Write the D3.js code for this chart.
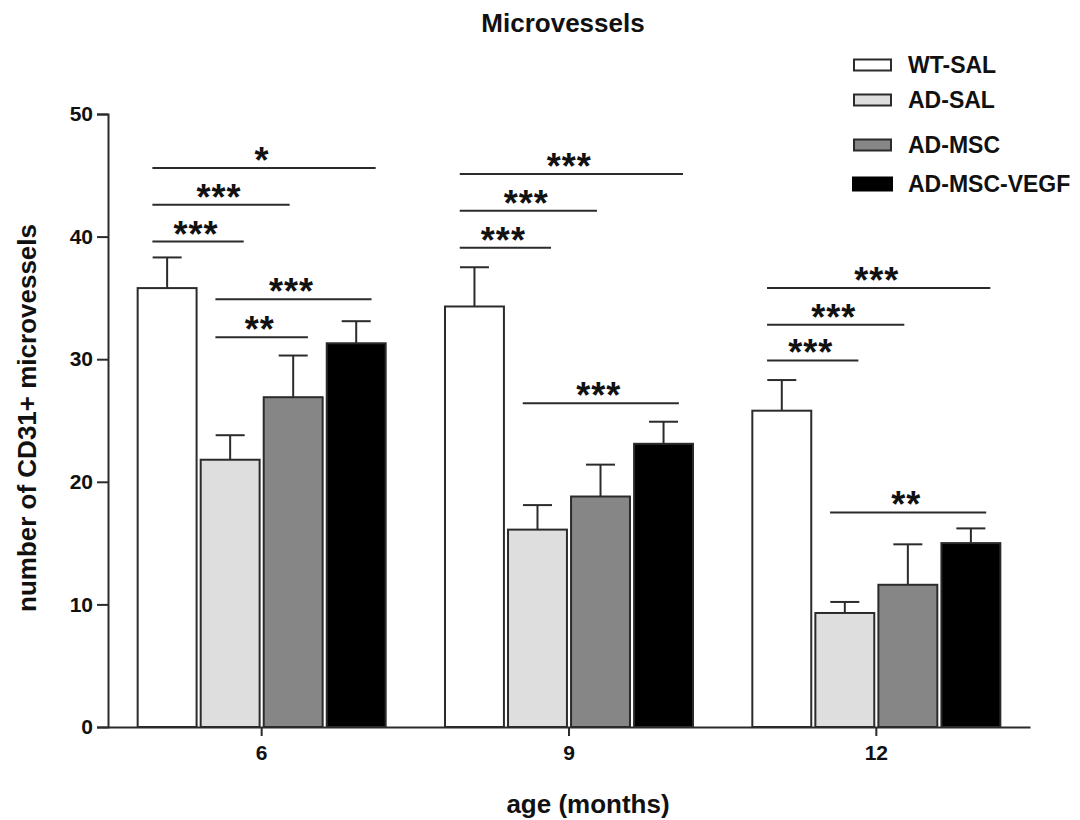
<!DOCTYPE html>
<html>
<head>
<meta charset="utf-8">
<script src="https://cdn.jsdelivr.net/npm/d3@7"></script>
<style>
  html, body { margin: 0; padding: 0; background: #fff; }
  svg { display: block; }
  text { font-family: "Liberation Sans", Arial, sans-serif; font-weight: bold; fill: #111; }
</style>
</head>
<body>
<svg id="chart" width="1080" height="820"></svg>
<script>
// ---- data ----
const ages = ["6", "9", "12"];
const seriesNames = ["WT-SAL", "AD-SAL", "AD-MSC", "AD-MSC-VEGF"];
const wtSal      = [35.8, 34.3, 25.8];
const adSal      = [21.8, 16.1, 9.3];
const adMsc      = [26.9, 18.8, 11.6];
const adMscVegf  = [31.3, 23.1, 15.0];
const wtSalErr     = [2.5, 3.2, 2.5];
const adSalErr     = [2.0, 2.0, 0.9];
const adMscErr     = [3.4, 2.6, 3.3];
const adMscVegfErr = [1.8, 1.8, 1.2];
const yTicks = [0, 10, 20, 30, 40, 50];
// significance brackets: [age, fromSeries, toSeries, level, label]
const brackets = [
  ["6", 0, 3, 45.6, "*"], ["6", 0, 2, 42.6, "***"], ["6", 0, 1, 39.6, "***"],
  ["6", 1, 3, 34.9, "***"], ["6", 1, 2, 31.8, "**"],
  ["9", 0, 3, 45.1, "***"], ["9", 0, 2, 42.1, "***"], ["9", 0, 1, 39.1, "***"],
  ["9", 1, 3, 26.4, "***"],
  ["12", 0, 3, 35.8, "***"], ["12", 0, 2, 32.8, "***"], ["12", 0, 1, 29.9, "***"],
  ["12", 1, 3, 17.5, "**"]
];

const means = [wtSal, adSal, adMsc, adMscVegf];
const errs = [wtSalErr, adSalErr, adMscErr, adMscVegfErr];
const fills = ["#ffffff", "#dedede", "#868686", "#000000"];
const ink = "#2b2b2b";

const svg = d3.select("#chart");
const pLeft = 108, pRight = 1030, pTop = 114, pBottom = 727;

const y = d3.scaleLinear().domain([0, 50]).range([pBottom, pTop]);
const x0 = d3.scaleBand().domain(ages).range([pLeft, pRight]).paddingInner(0.193).paddingOuter(0.0965);
const x1 = d3.scaleBand().domain(d3.range(4)).range([0, x0.bandwidth()]).paddingInner(0.065);

const rows = [];
ages.forEach((a, i) => seriesNames.forEach((s, j) => rows.push({ age: a, s: j, v: means[j][i], e: errs[j][i] })));

// error bars
const eg = svg.append("g").attr("stroke", ink).attr("stroke-width", 2);
rows.forEach(d => {
  const cx = x0(d.age) + x1(d.s) + x1.bandwidth() / 2;
  eg.append("line").attr("x1", cx).attr("x2", cx).attr("y1", y(d.v)).attr("y2", y(d.v + d.e));
  eg.append("line").attr("x1", cx - 14.5).attr("x2", cx + 14.5).attr("y1", y(d.v + d.e)).attr("y2", y(d.v + d.e));
});

// bars
svg.append("g").selectAll("rect").data(rows).join("rect")
  .attr("x", d => x0(d.age) + x1(d.s))
  .attr("y", d => y(d.v))
  .attr("width", x1.bandwidth())
  .attr("height", d => y(0) - y(d.v))
  .attr("fill", d => fills[d.s])
  .attr("stroke", ink)
  .attr("stroke-width", 2);

// y axis
const ya = svg.append("g").attr("transform", `translate(${pLeft},0)`)
  .call(d3.axisLeft(y).tickValues(yTicks).tickSize(11).tickPadding(4));
ya.select(".domain").attr("stroke", ink).attr("stroke-width", 2);
ya.selectAll(".tick line").attr("stroke", ink).attr("stroke-width", 2);
ya.selectAll(".tick text").attr("font-size", 21).attr("font-family", "Liberation Sans, Arial, sans-serif").attr("font-weight", "bold").attr("fill", "#111");

// x axis
const xa = svg.append("g").attr("transform", `translate(0,${pBottom})`)
  .call(d3.axisBottom(x0).tickSize(9).tickSizeOuter(0).tickPadding(9));
xa.select(".domain").attr("stroke", ink).attr("stroke-width", 2);
xa.selectAll(".tick line").attr("stroke", ink).attr("stroke-width", 2);
xa.selectAll(".tick text").attr("font-size", 21).attr("font-family", "Liberation Sans, Arial, sans-serif").attr("font-weight", "bold").attr("fill", "#111");

// significance brackets
function endFrac(from, to) {
  if (to === 1) return 0.73;
  if (to === 2) return from === 0 ? 0.44 : 0.75;
  return from === 0 ? 0.83 : 0.76;
}
const bg = svg.append("g");
brackets.forEach(([a, f, t, lv, lab]) => {
  const bw = x1.bandwidth();
  const xs = x0(a) + x1(f) + 0.25 * bw;
  const xe = x0(a) + x1(t) + endFrac(f, t) * bw;
  bg.append("line").attr("x1", xs).attr("x2", xe).attr("y1", y(lv)).attr("y2", y(lv))
    .attr("stroke", ink).attr("stroke-width", 2);
  bg.append("text").attr("x", (xs + xe) / 2 - 2).attr("y", y(lv) + 5)
    .attr("text-anchor", "middle").attr("font-size", 36).attr("letter-spacing", 1).text(lab);
});

// titles
svg.append("text").attr("x", 563).attr("y", 32).attr("text-anchor", "middle").attr("font-size", 26).text("Microvessels");
svg.append("text").attr("x", 588).attr("y", 813).attr("text-anchor", "middle").attr("font-size", 26).text("age (months)");
svg.append("text").attr("transform", "translate(36,418) rotate(-90)").attr("text-anchor", "middle").attr("font-size", 26)
  .text("number of CD31+ microvessels");

// legend
const legY = [73, 108, 153, 192];
const lg = svg.append("g");
seriesNames.forEach((s, i) => {
  const big = i === 3;
  lg.append("rect")
    .attr("x", big ? 852 : 854).attr("y", legY[i] - 8 - (big ? 7.5 : 5.5))
    .attr("width", big ? 41 : 37).attr("height", big ? 15 : 11)
    .attr("fill", fills[i]).attr("stroke", ink).attr("stroke-width", big ? 0 : 2);
  lg.append("text").attr("x", 908).attr("y", legY[i]).attr("font-size", 23).text(s);
});
</script>
</body>
</html>
